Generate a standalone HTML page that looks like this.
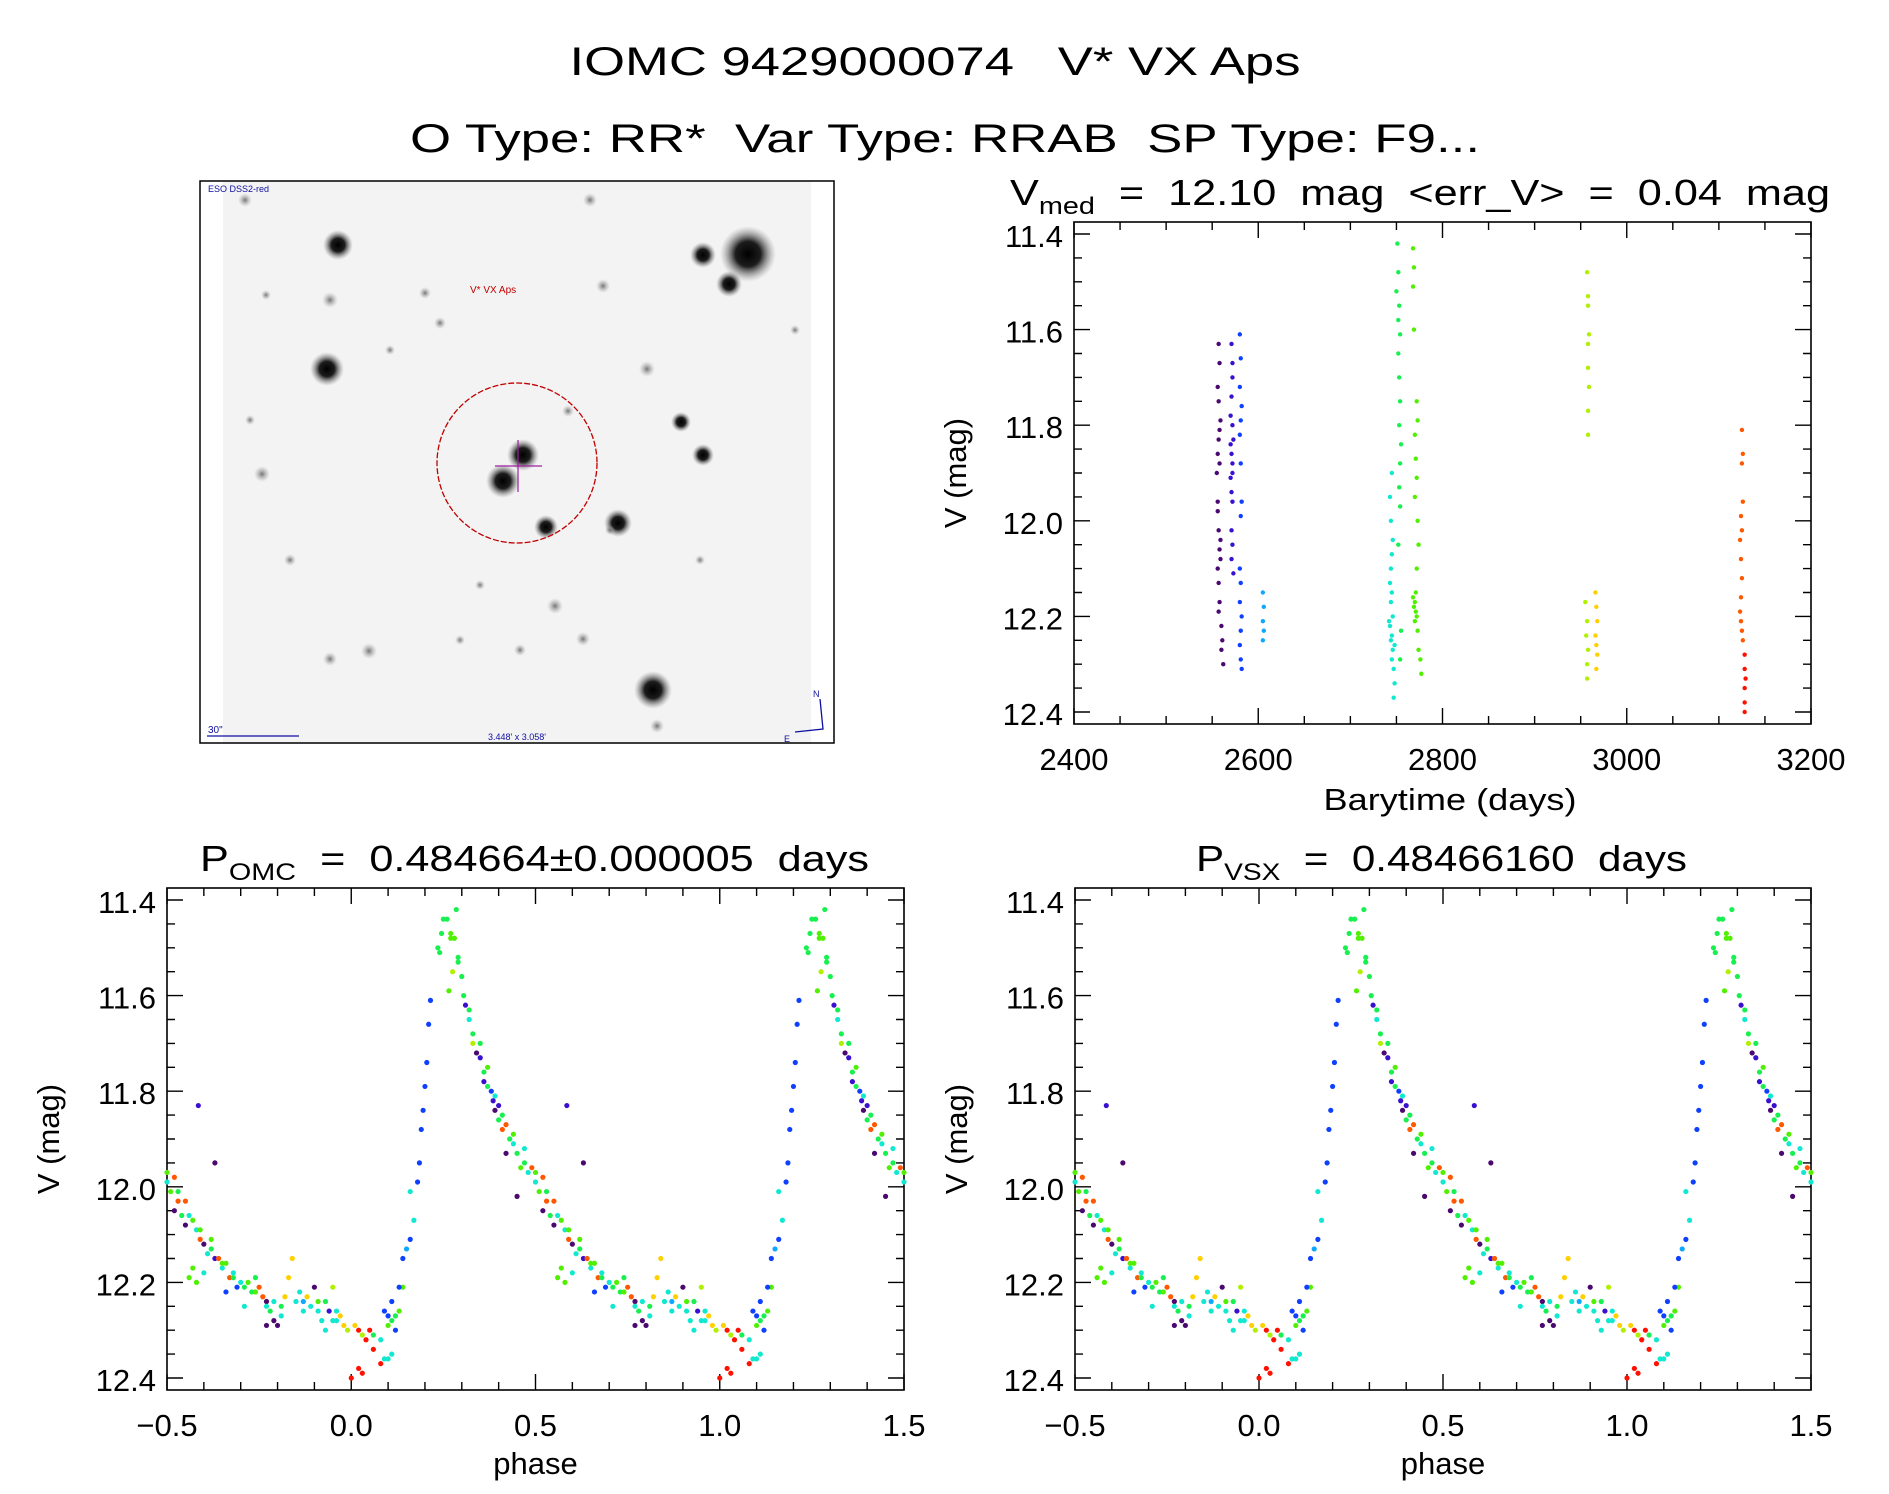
<!DOCTYPE html>
<html><head><meta charset="utf-8"><style>
html,body{margin:0;padding:0;background:#fff;}
svg{display:block;font-family:"Liberation Sans",sans-serif;}
text{white-space:pre;}
</style></head><body>
<svg id="root" width="1889" height="1494" viewBox="0 0 1889 1494" xmlns="http://www.w3.org/2000/svg" xml:space="preserve">
<defs>
<radialGradient id="star"><stop offset="0" stop-color="#000" stop-opacity="1"/><stop offset="0.45" stop-color="#111" stop-opacity="0.95"/><stop offset="1" stop-color="#888" stop-opacity="0"/></radialGradient>
<radialGradient id="fstar"><stop offset="0" stop-color="#666" stop-opacity="0.9"/><stop offset="1" stop-color="#aaa" stop-opacity="0"/></radialGradient>
</defs>
<text x="935" y="75" font-size="40" text-anchor="middle" textLength="731" lengthAdjust="spacingAndGlyphs">IOMC 9429000074   V* VX Aps</text>
<text x="945" y="152" font-size="40" text-anchor="middle" textLength="1070" lengthAdjust="spacingAndGlyphs">O Type: RR*  Var Type: RRAB  SP Type: F9...</text>

<g>
<rect x="223" y="181" width="588" height="563" fill="#f3f3f3"/>
<g id="stars"></g>
<rect x="200" y="181" width="634" height="562" fill="none" stroke="#000" stroke-width="1.5"/>
<circle cx="517" cy="463" r="80" fill="none" stroke="#c00000" stroke-width="1.3" stroke-dasharray="6,2"/>
<line x1="495" y1="466" x2="542" y2="466" stroke="#a020a0" stroke-width="1.2"/>
<line x1="518" y1="440" x2="518" y2="492" stroke="#a020a0" stroke-width="1.2"/>
<text x="470" y="293" font-size="10" fill="#c00000">V* VX Aps</text>
<text x="208" y="192" font-size="9" fill="#1010a0">ESO DSS2-red</text>
<text x="208" y="733" font-size="10" fill="#1010a0">30"</text>
<line x1="207" y1="736" x2="299" y2="736" stroke="#1010a0" stroke-width="1.3"/>
<text x="488" y="740" font-size="9" fill="#1010a0">3.448' x 3.058'</text>
<polyline points="820,699 823,729 795,732" fill="none" stroke="#1010a0" stroke-width="1.3"/>
<text x="813" y="697" font-size="9" fill="#1010a0">N</text>
<text x="784" y="742" font-size="9" fill="#1010a0">E</text>
</g>
<g id="plots"></g>
</svg>
<script>
const NS="http://www.w3.org/2000/svg";
const COLORS=["#4a0870","#3a10d0","#1040ff","#10a8ff","#10e8d0","#18f050","#50f000","#b0f000","#ffd000","#ff5800","#ff1000"];
// Time series data: barytime (days), V mag, colour index
const timeT=[2557,2558,2556,2557,2559,2558,2557,2556,2555,2556,2557,2559,2558,2556,2557,2558,2557,2560,2561,2560,2562,2558,2556,2559,
2571,2572,2572,2571,2570,2572,2573,2571,2572,2570,2571,2572,2571,2572,2571,2573,2570,2572,
2580,2581,2580,2582,2581,2580,2581,2582,2581,2580,2581,2580,2582,2581,2580,2581,2582,
2605,2606,2605,2606,2605,
2745,2743,2744,2746,2745,2744,2743,2745,2744,2746,2743,2745,2744,2746,2745,2747,2748,2747,2742,2748,
2751,2752,2750,2753,2752,2754,2752,2753,2754,2753,2755,2754,2753,2754,2752,2755,2754,
2768,2769,2768,2769,2772,2773,2770,2771,2772,2770,2773,2774,2772,2771,2770,2769,2772,2770,2773,2774,2776,2777,2768,2771,
2957,2958,2958,2959,2958,2958,2959,2958,2958,2955,2957,2956,2958,2957,2957,
2966,2967,2968,2966,2967,2968,2967,
3125,3126,3125,3126,3124,3125,3123,3124,3125,3124,3123,3124,3125,3126,
3128,3128,3129,3128,3128,3128];
const timeV=[11.63,11.67,11.72,11.75,11.79,11.81,11.83,11.86,11.90,11.96,12.02,12.04,12.06,12.10,12.13,12.17,12.19,12.22,12.25,12.27,12.30,11.88,11.98,12.08,
11.63,11.67,11.70,11.74,11.78,11.80,11.83,11.86,11.88,11.91,11.94,11.96,12.02,12.05,12.08,12.11,11.84,11.90,
11.61,11.66,11.72,11.76,11.79,11.82,11.88,11.96,11.99,12.10,12.13,12.17,12.20,12.23,12.26,12.29,12.31,
12.15,12.18,12.21,12.23,12.25,
11.90,11.95,12.00,12.04,12.07,12.10,12.13,12.15,12.17,12.20,12.22,12.24,12.25,12.27,12.29,12.31,12.34,12.37,12.21,12.26,
11.42,11.48,11.52,11.55,11.58,11.61,11.65,11.70,11.75,11.80,11.84,11.88,11.93,11.97,12.05,12.23,12.29,
11.43,11.47,11.51,11.60,11.75,11.79,11.82,11.87,11.91,11.95,12.00,12.05,12.10,12.15,12.17,12.18,12.20,12.21,12.23,12.27,12.29,12.32,12.16,12.19,
11.48,11.53,11.55,11.61,11.63,11.68,11.72,11.77,11.82,12.17,12.21,12.24,12.27,12.30,12.33,
12.15,12.18,12.21,12.24,12.26,12.28,12.31,
11.81,11.86,11.88,11.96,11.99,12.02,12.04,12.08,12.12,12.16,12.19,12.21,12.23,12.25,
12.28,12.31,12.33,12.35,12.38,12.40];
const timeC=[0,0,0,0,0,0,0,0,0,0,0,0,0,0,0,0,0,0,0,0,0,0,0,0,
1,1,1,1,1,1,1,1,1,1,1,1,1,1,1,1,1,1,
2,2,2,2,2,2,2,2,2,2,2,2,2,2,2,2,2,
3,3,3,3,3,
4,4,4,4,4,4,4,4,4,4,4,4,4,4,4,4,4,4,4,4,
5,5,5,5,5,5,5,5,5,5,5,5,5,5,5,5,5,
6,6,6,6,6,6,6,6,6,6,6,6,6,6,6,6,6,6,6,6,6,6,6,6,
7,7,7,7,7,7,7,7,7,7,7,7,7,7,7,
8,8,8,8,8,8,8,
9,9,9,9,9,9,9,9,9,9,9,9,9,9,
10,10,10,10,10,10];
// Phased data: phase [0,1), V mag, colour index
const phaseP=[0.00,0.02,0.03,0.02,0.04,0.05,0.06,0.08,0.01,0.03,0.09,0.10,0.11,0.08,0.09,0.10,0.11,0.12,0.11,0.12,0.13,0.14,0.13,0.14,0.15,0.16,0.17,0.16,
0.18,0.185,0.19,0.195,0.20,0.205,0.21,0.215,
0.235,0.245,0.25,0.26,0.27,0.28,0.285,0.24,0.265,0.275,0.29,0.30,0.305,
0.31,0.32,0.33,0.34,0.33,0.35,0.36,0.37,0.38,0.385,0.39,0.40,0.41,0.42,0.43,0.44,0.45,0.42,0.46,0.47,0.49,0.50,0.51,0.52,0.53,0.54,0.55,0.45,0.52,
0.57,0.58,0.59,0.60,0.61,0.62,0.63,0.64,0.65,0.66,0.67,0.68,0.69,0.70,0.56,0.57,0.58,0.72,0.73,0.74,0.75,0.76,0.77,0.78,0.79,0.80,0.79,0.81,0.82,0.84,0.83,
0.85,0.86,0.87,0.88,0.89,0.90,0.91,0.92,0.93,0.94,0.95,0.96,0.97,0.98,0.99,0.93,0.95,0.585,0.63,0.36,0.40,0.48,0.55,0.66,0.71,0.77,0.60,
0.27,0.29,0.32,0.35,0.37,0.39,0.41,0.44,0.47,0.50,0.53,0.56,0.59,0.62,0.65,0.68,0.71,0.74,0.77,0.81,0.87,0.91,0.96,0.06,0.10];
const phaseV=[12.40,12.38,12.39,12.30,12.32,12.30,12.34,12.37,12.29,12.31,12.36,12.36,12.35,12.32,12.26,12.27,12.24,12.30,12.28,12.27,12.26,12.21,12.21,12.15,12.13,12.11,12.07,12.01,
11.99,11.95,11.88,11.84,11.79,11.74,11.66,11.61,
11.50,11.47,11.44,11.44,11.48,11.48,11.42,11.51,11.59,11.55,11.53,11.56,11.60,
11.62,11.65,11.68,11.72,11.70,11.73,11.76,11.79,11.80,11.82,11.84,11.86,11.88,11.87,11.90,11.91,11.93,11.93,11.96,11.95,11.96,11.99,12.01,11.98,12.03,12.06,12.03,12.02,12.05,
12.07,12.09,12.11,12.12,12.14,12.11,12.15,12.15,12.17,12.16,12.19,12.19,12.21,12.20,12.19,12.17,12.20,12.20,12.22,12.19,12.21,12.23,12.24,12.26,12.28,12.29,12.24,12.27,12.23,12.15,12.19,
12.24,12.22,12.24,12.23,12.25,12.21,12.26,12.28,12.24,12.26,12.21,12.26,12.27,12.29,12.30,12.30,12.28,11.83,11.95,11.78,11.83,11.97,12.08,12.22,12.25,12.29,12.18,
11.47,11.52,11.63,11.70,11.75,11.81,11.85,11.89,11.92,11.97,12.01,12.06,12.09,12.13,12.16,12.18,12.21,12.22,12.25,12.25,12.26,12.24,12.28,12.31,12.29];
const phaseC=[10,10,10,10,10,10,10,10,8,7,4,4,4,4,2,2,2,2,5,5,6,6,2,2,3,2,4,4,
2,2,2,2,2,2,2,2,
5,5,5,5,6,6,5,5,6,7,5,5,5,
1,4,5,0,7,1,5,5,2,1,0,5,9,9,5,4,5,0,6,5,9,4,6,9,9,5,9,0,0,
6,4,9,0,4,6,1,9,4,6,9,5,2,4,6,6,6,6,5,5,9,9,0,5,0,0,4,4,8,8,8,
4,4,3,8,4,0,4,4,5,1,7,4,8,8,7,4,4,1,0,1,1,4,0,2,4,0,4,
6,5,5,5,6,4,5,6,4,6,5,4,6,5,6,4,5,6,4,5,4,6,4,5,6];
const timeXTicks=[2400,2600,2800,3000,3200];
const magTicks=[11.4,11.6,11.8,12.0,12.2,12.4];
const phaseTicks=[-0.5,0.0,0.5,1.0,1.5];

const plots=document.getElementById('plots');
function el(tag,attrs,parent){const e=document.createElementNS(NS,tag);for(const k in attrs)e.setAttribute(k,attrs[k]);(parent||plots).appendChild(e);return e;}

function makeAxes(box,xmin,xmax,ymin,ymax,xMajor,xMinor,xTicks,xFmt,name){
  const g=el('g',{});
  
  
  const sx=v=>box.x0+(v-xmin)/(xmax-xmin)*(box.x1-box.x0);
  const sy=v=>box.y0+(v-ymin)/(ymax-ymin)*(box.y1-box.y0);
  const fr=el('rect',{x:box.x0,y:box.y0,width:box.x1-box.x0,height:box.y1-box.y0,fill:'none',stroke:'#000','stroke-width':1.6},g);
  
  
  let p='';
  const nx=Math.round((xmax-xmin)/xMinor);
  for(let i=0;i<=nx;i++){const v=xmin+i*xMinor;const X=sx(v);const maj=Math.abs(v/xMajor-Math.round(v/xMajor))<1e-6;const L=maj?16:8;
    p+=`M${X},${box.y1}v${-L}M${X},${box.y0}v${L}`;}
  const ny=Math.round((12.45-11.35)/0.05);
  for(let i=0;i<=ny;i++){const v=11.35+i*0.05;if(v<ymin-1e-6||v>ymax+1e-6)continue;const Y=sy(v);const maj=Math.abs(v/0.2-Math.round(v/0.2))<1e-6;const L=maj?16:8;
    p+=`M${box.x0},${Y}h${L}M${box.x1},${Y}h${-L}`;}
  const tk=el('path',{d:p,stroke:'#000','stroke-width':1.4,fill:'none'},g);
  
  
  xTicks.forEach(v=>{const t=el('text',{x:sx(v),y:box.y1+46,'font-size':31,'text-anchor':'middle'},g);t.textContent=xFmt(v);
    
    });
  magTicks.forEach(v=>{const t=el('text',{x:box.x0-11,y:sy(v)+13,'font-size':31,'text-anchor':'end'},g);t.textContent=v.toFixed(1);
    
    });
  const yl=el('text',{x:0,y:0,'font-size':31,'text-anchor':'middle',transform:`translate(${box.x0-108},${(box.y0+box.y1)/2}) rotate(-90)`},g);
  yl.textContent='V (mag)';
  
  
  return {g,sx,sy};
}
function dot(ax,x,y,c,r){const d=el('circle',{cx:ax.sx(x),cy:ax.sy(y),r:r,fill:COLORS[c]},ax.g);
  
  }

// Time series panel
const tBox={x0:1074,x1:1811,y0:222,y1:724};
const tAx=makeAxes(tBox,2400,3200,11.4-(234-222)/478,12.4+(724-712)/478,200,50,timeXTicks,v=>String(v),'time-series-plot');
for(let i=0;i<timeT.length;i++)dot(tAx,timeT[i],timeV[i],timeC[i],2.2);
let t=el('text',{x:1450,y:810,'font-size':31,'text-anchor':'middle','textLength':253,'lengthAdjust':'spacingAndGlyphs'},tAx.g);t.textContent='Barytime (days)';


t=el('text',{x:1010,y:205,'font-size':36,'textLength':820,'lengthAdjust':'spacingAndGlyphs'},tAx.g);


t.innerHTML='V<tspan font-size="24" dy="9">med</tspan><tspan dy="-9">  =  12.10  mag  &lt;err_V&gt;  =  0.04  mag</tspan>';

function phasePanel(x0,x1,name,title,sub,rest,tx,tw){
  const box={x0:x0,x1:x1,y0:888,y1:1390};
  const ax=makeAxes(box,-0.5,1.5,11.4-(900-888)/478,12.4+(1390-1378)/478,0.5,0.1,phaseTicks,v=>(v<0?'\u2212':'')+Math.abs(v).toFixed(1),name);
  for(let i=0;i<phaseP.length;i++){[-1,0,1].forEach(s=>{const x=phaseP[i]+s;if(x>=-0.5&&x<=1.5)dot(ax,x,phaseV[i],phaseC[i],2.6);});}
  let t=el('text',{x:(x0+x1)/2,y:1474,'font-size':31,'text-anchor':'middle'},ax.g);t.textContent='phase';
  
  
  t=el('text',{x:tx,y:871,'font-size':36,'textLength':tw,'lengthAdjust':'spacingAndGlyphs'},ax.g);
  
  
  t.innerHTML=title+'<tspan font-size="24" dy="9">'+sub+'</tspan><tspan dy="-9">'+rest+'</tspan>';
}
phasePanel(167,904,'phase-plot-omc','P','OMC','  =  0.484664\u00b10.000005  days',200,669);
phasePanel(1075,1811,'phase-plot-vsx','P','VSX','  =  0.48466160  days',1196,491);

// Stars in sky image
const starX=[338,748,703,729,327,330,503,523,546,618,653,657,703,681,647,590,245,603,262,369,330,555,583,440,425,568,266,290,520,460,480,795,700,390,610,250];
const starY=[245,254,255,284,369,300,481,455,527,523,690,726,455,422,369,200,200,286,474,651,659,606,639,323,293,411,295,560,650,640,585,330,560,350,530,420];
const starR=[15,28,13,13,17,8,17,16,12,14,19,7,11,10,8,7,7,7,8,8,7,8,7,6,6,6,5,6,6,5,5,5,5,5,5,5];
const sg=document.getElementById('stars');
for(let i=0;i<starX.length;i++){const c=el('circle',{cx:starX[i],cy:starY[i],r:starR[i],fill:starR[i]>=9?'url(#star)':'url(#fstar)'},sg);
  
  }
</script>
</body></html>
